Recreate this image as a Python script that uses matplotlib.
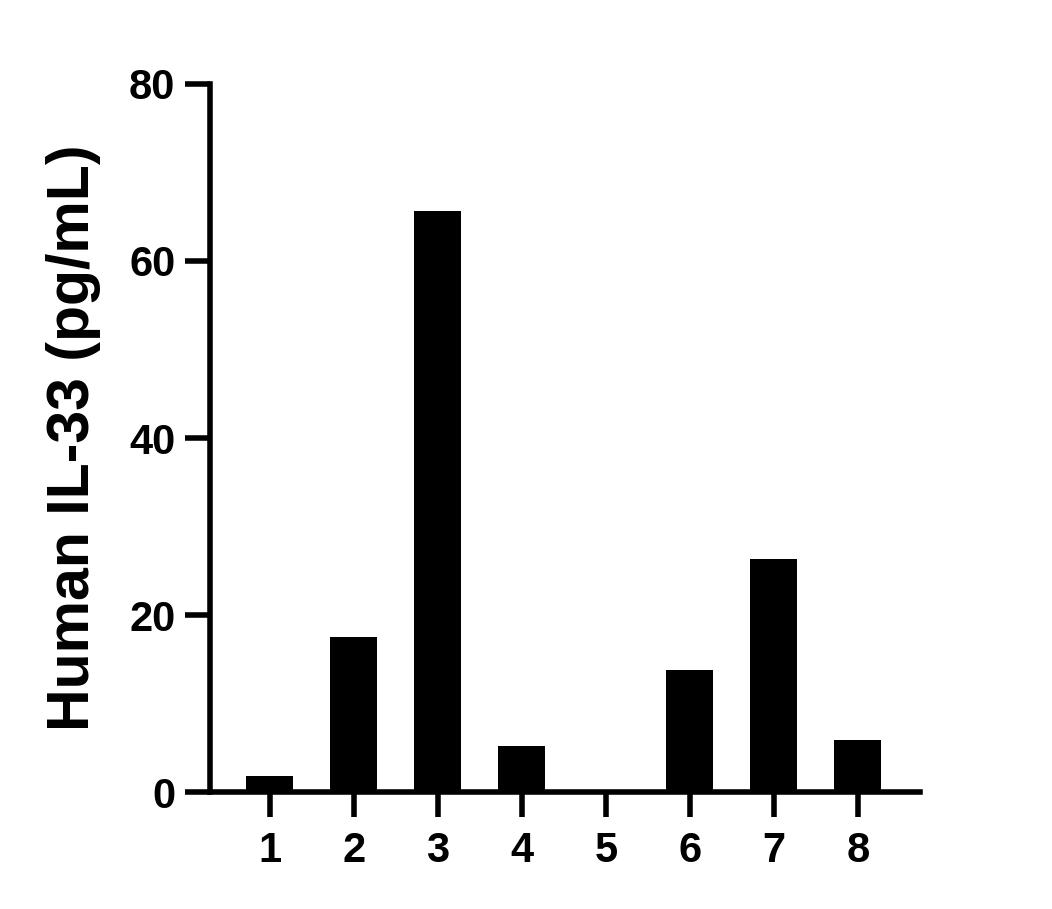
import matplotlib
matplotlib.use('Agg')
import matplotlib.pyplot as plt

plt.rcParams['font.family'] = ['Liberation Sans', 'DejaVu Sans']
plt.rcParams['font.weight'] = 'bold'

samples = ['1', '2', '3', '4', '5', '6', '7', '8']
il33_values = [1.8, 17.5, 65.6, 5.2, 0.0, 13.8, 26.3, 5.9]
y_ticks = [0, 20, 40, 60, 80]

fig = plt.figure(figsize=(10.52, 9.09), dpi=100)
ax = fig.add_axes([0.1996, 0.1287, 0.6749, 0.7789])

positions = list(range(1, len(samples) + 1))
ax.bar(positions, il33_values, width=0.56, color='black')

ax.set_xlim(0.286, 8.74)
ax.set_ylim(0, 80)
ax.set_xticks(positions)
ax.set_xticklabels(samples)
ax.set_yticks(y_ticks)

for side in ['top', 'right']:
    ax.spines[side].set_visible(False)
for side in ['left', 'bottom']:
    ax.spines[side].set_linewidth(4)
    ax.spines[side].set_capstyle('projecting')

ax.tick_params(axis='y', length=18, width=4, pad=7, labelsize=30)
ax.tick_params(axis='x', length=18, width=4, pad=10, labelsize=30)
for lab in ax.get_xticklabels() + ax.get_yticklabels():
    lab.set_fontweight('bold')

ax.set_ylabel('Human IL-33 (pg/mL)', fontsize=42.5, fontweight='bold', labelpad=20)

fig.savefig('out.png', dpi=100)
